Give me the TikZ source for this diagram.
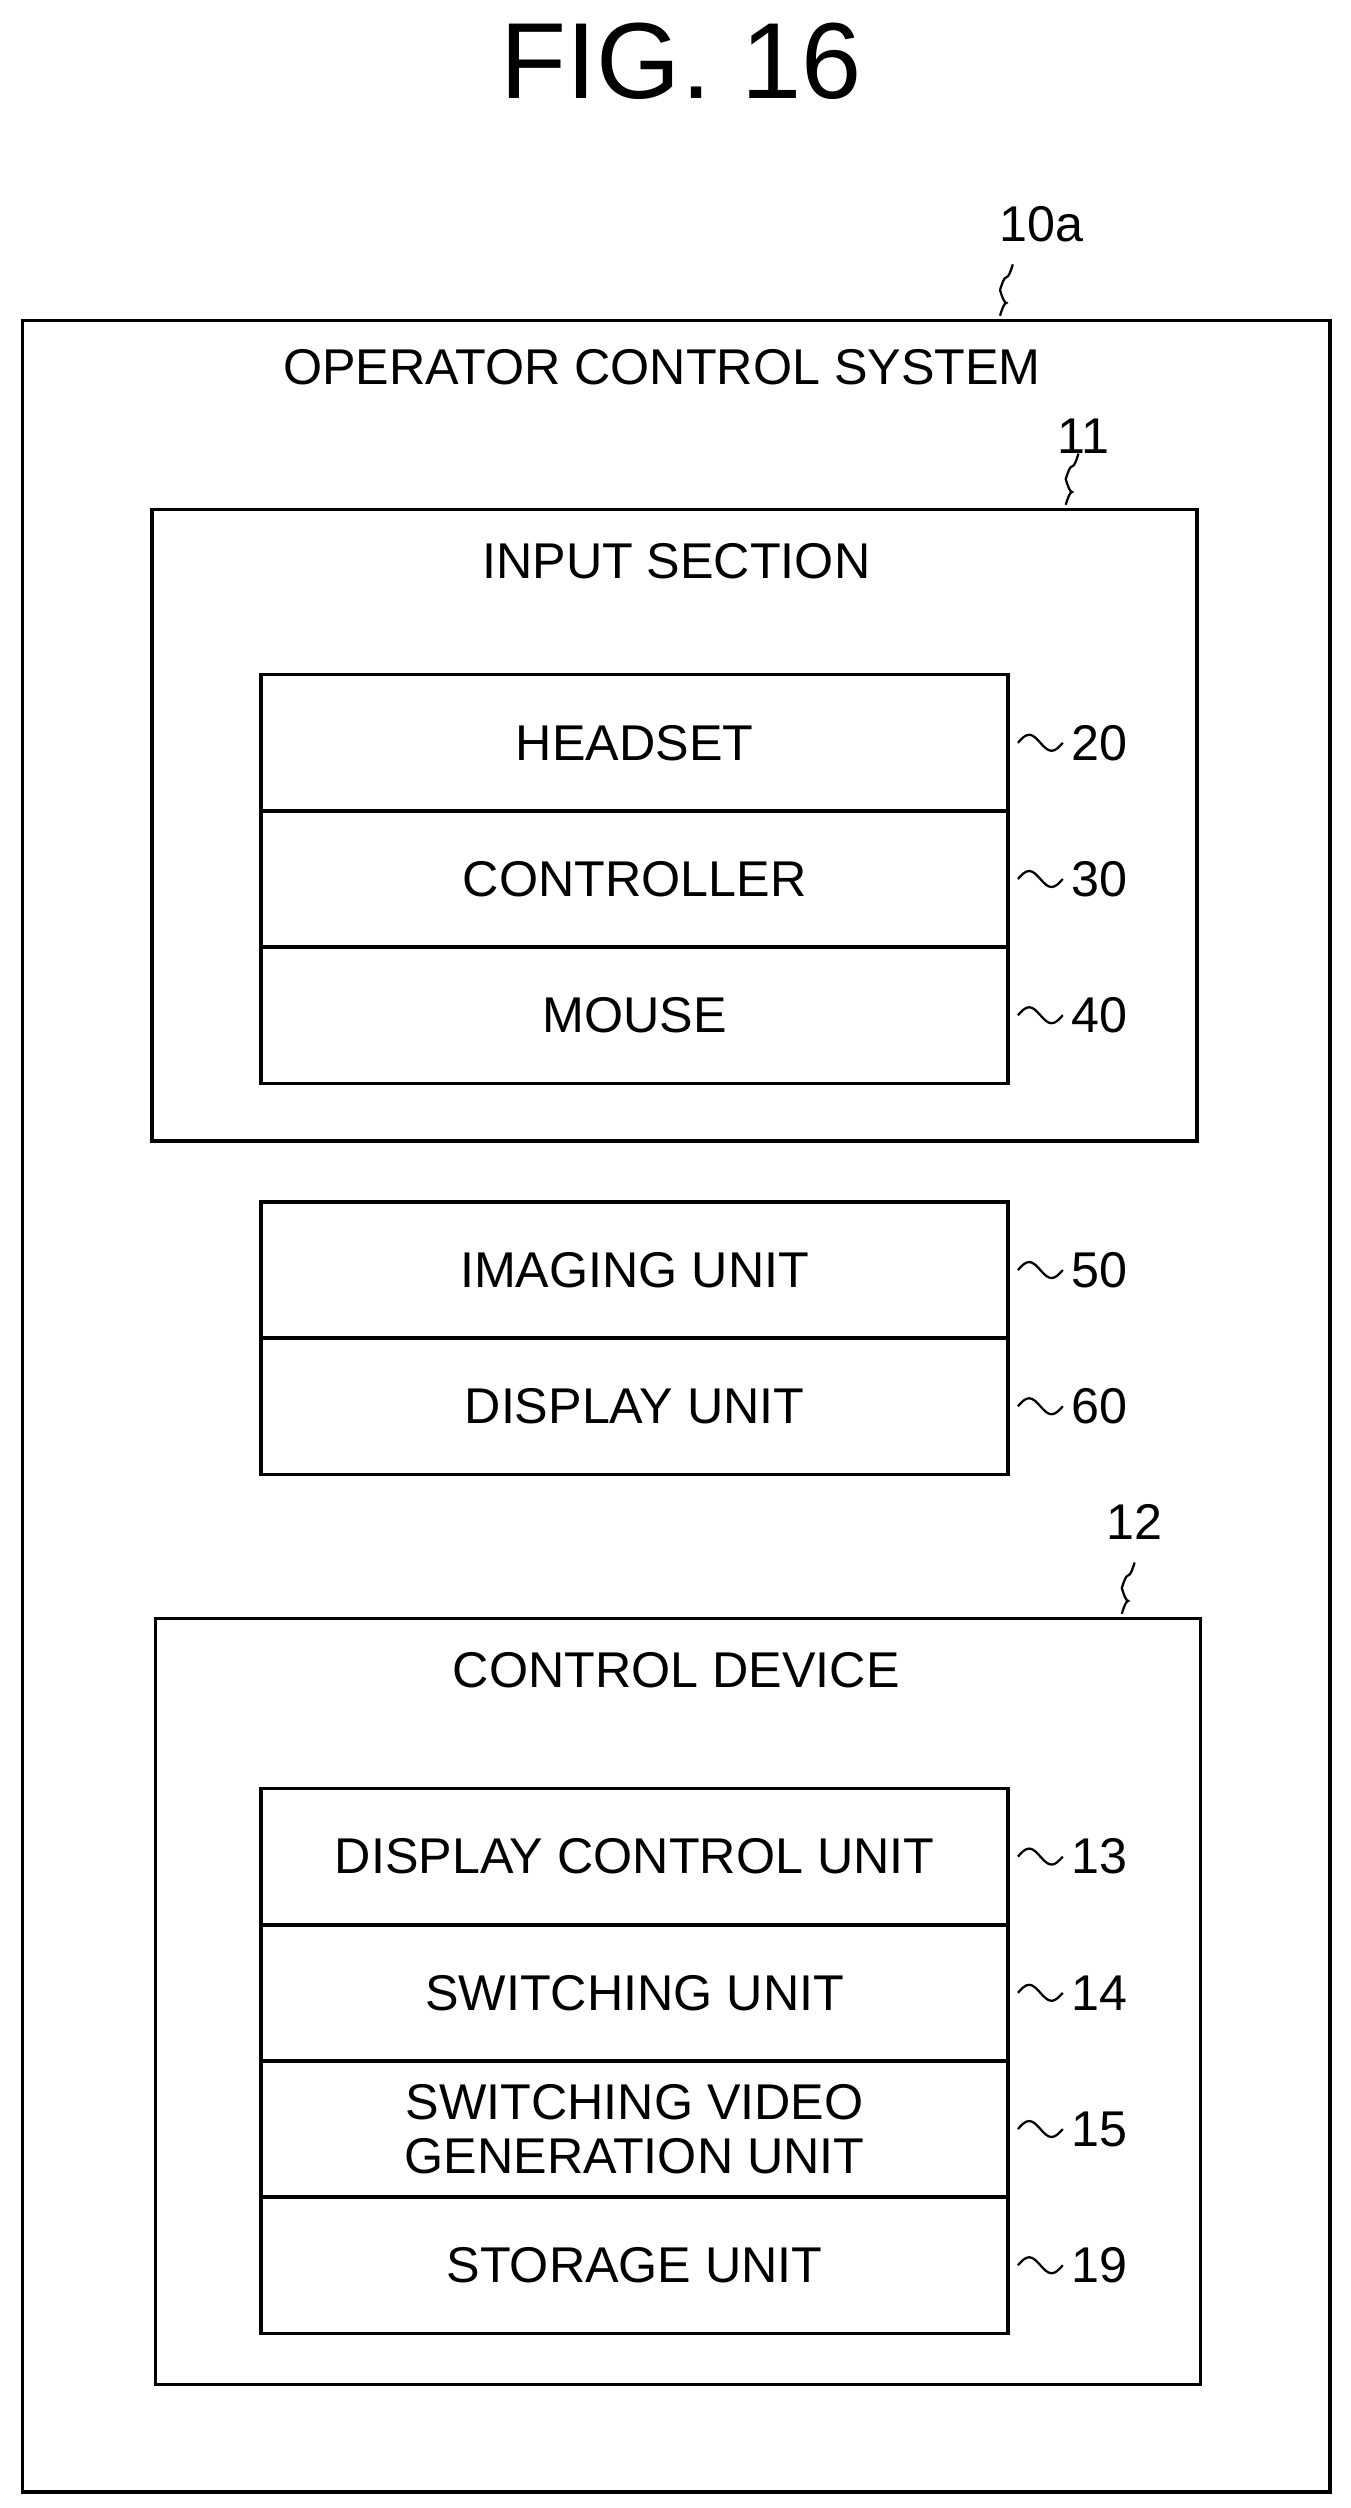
\documentclass[tikz,border=0pt]{standalone}
\usepackage{fontspec}
\setmainfont{Liberation Sans}
\usetikzlibrary{positioning,calc}
\tikzset{
  frame/.style={draw, line width=1.6pt},
  unit/.style={draw, line width=1.6pt, minimum width=11.65cm, minimum height=2.125cm, inner sep=0pt, font=\fontsize{22.3}{23}\selectfont},
  txt/.style={font=\fontsize{22.3}{23}\selectfont, inner sep=0pt},
  ref/.style={font=\fontsize{22.3}{23}\selectfont, inner sep=0pt, anchor=west},
  lead/.style={line width=1pt}
}
\newcommand{\tildeh}[1]{\draw[lead] ($(#1.east)+(5,0)$) sin ++(7,-5) cos ++(7,5) sin ++(7,5) cos ++(7,-5);}
\newcommand{\tildev}[1]{\draw[lead] (#1) sin ++(4,-8) cos ++(-4,-8) sin ++(4,-8) cos ++(4,-8);}
\begin{document}
\begin{tikzpicture}[x=0.025cm,y=-0.025cm]
  \useasboundingbox (0,0) rectangle (843,1565);
  \node[font=\fontsize{48}{50}\selectfont] (title) at (425,38) {FIG. 16};

  % Outer system
  \draw[frame] (14,200) rectangle (830,1555);
  \node[txt] (sys) at (413,229) {OPERATOR CONTROL SYSTEM};
  \node[txt] (r10a) at (650,140) {10a};
  \coordinate (c10a) at (624,197);
  \tildev{c10a}

  % Input section
  \draw[frame] (95,318) rectangle (747,712);
  \node[txt] (inp) at (422,350) {INPUT SECTION};
  \node[txt] (r11) at (676,272) {11};
  \coordinate (c11) at (665,315);
  \tildev{c11}
  \node[unit] (hs) at (396,463.5) {HEADSET};
  \node[unit] (ctl) at (396,548.5) {CONTROLLER};
  \node[unit] (ms) at (396,633.5) {MOUSE};

  % Imaging / display
  \node[unit] (img) at (396,792.5) {IMAGING UNIT};
  \node[unit] (dsp) at (396,877.5) {DISPLAY UNIT};

  % Control device
  \draw[frame] (97,1010) rectangle (749,1488);
  \node[txt] (cdev) at (422,1042) {CONTROL DEVICE};
  \node[txt] (r12) at (708,950) {12};
  \coordinate (c12) at (700,1007);
  \tildev{c12}
  \node[unit] (dcu) at (396,1158.5) {DISPLAY CONTROL UNIT};
  \node[unit] (swu) at (396,1243.5) {SWITCHING UNIT};
  \node[unit, align=center, font=\fontsize{22.3}{24}\selectfont] (svg) at (396,1328.5) {SWITCHING VIDEO\\GENERATION UNIT};
  \node[unit] (stu) at (396,1413.5) {STORAGE UNIT};

  % Reference numerals
  \foreach \b/\n in {hs/20,ctl/30,ms/40,img/50,dsp/60,dcu/13,swu/14,svg/15,stu/19}{
    \node[ref] (r\n) at ($(\b.east)+(38,0)$) {\n};
    \tildeh{\b}
  }
\end{tikzpicture}
\end{document}
